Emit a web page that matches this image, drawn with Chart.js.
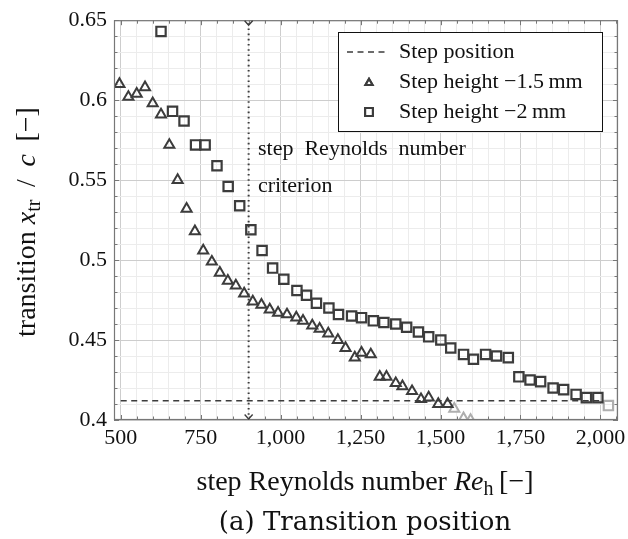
<!DOCTYPE html>
<html>
<head>
<meta charset="utf-8">
<script src="https://cdn.jsdelivr.net/npm/chart.js@4.4.1/dist/chart.umd.min.js"></script>
<style>
  html, body { margin: 0; padding: 0; background: #fff; }
  #wrap { width: 628px; height: 539px; }
</style>
</head>
<body>
<div id="wrap"><canvas id="c" width="628" height="539"></canvas></div>
<script>
// Transition position vs step Reynolds number, two step heights
const SERIF = "'Liberation Serif', 'Times New Roman', serif";
const CAPTION_FONT = "'DejaVu Serif', serif";
const INK = "#3c3c3c";
const FADED = "#aeaeae";

// step height -1.5 mm
const reTri = [496, 524, 550, 576, 600, 626, 652, 678, 706, 732, 758, 785, 810, 835, 860,
  886, 913, 940, 966, 992, 1020, 1049, 1070, 1099, 1122, 1149, 1179, 1203, 1232, 1253,
  1282, 1310, 1331, 1360, 1381, 1411, 1439, 1463, 1493, 1522];
const xtrTri = [0.610, 0.602, 0.604, 0.608, 0.598, 0.591, 0.572, 0.550, 0.532, 0.518, 0.506,
  0.499, 0.492, 0.487, 0.484, 0.479, 0.474, 0.472, 0.469, 0.467, 0.466, 0.464, 0.462, 0.459,
  0.457, 0.454, 0.450, 0.445, 0.439, 0.442, 0.441, 0.427, 0.427, 0.423, 0.421, 0.418, 0.413,
  0.414, 0.410, 0.410];
// points past the step position (greyed out)
const reTriOut = [1543, 1572, 1594];
const xtrTriOut = [0.407, 0.401, 0.400];

// step height -2 mm
const reSq = [626, 662, 698, 734, 764, 801, 836, 872, 907, 942, 975, 1010, 1051, 1081, 1112,
  1151, 1181, 1222, 1253, 1290, 1323, 1360, 1394, 1431, 1463, 1501, 1532, 1572, 1603, 1641,
  1675, 1712, 1745, 1780, 1813, 1852, 1885, 1924, 1956, 1992];
const xtrSq = [0.643, 0.593, 0.587, 0.572, 0.572, 0.559, 0.546, 0.534, 0.519, 0.506, 0.495,
  0.488, 0.481, 0.478, 0.473, 0.470, 0.466, 0.465, 0.464, 0.462, 0.461, 0.460, 0.458, 0.455,
  0.452, 0.450, 0.445, 0.441, 0.438, 0.441, 0.440, 0.439, 0.427, 0.425, 0.424, 0.420, 0.419,
  0.416, 0.414, 0.414];
const reSqOut = [2025];
const xtrSqOut = [0.409];

const stepPosition = 0.412;
const stepLineRe = [500, 2000];
const reCriterion = 900;

// axis range and tick grid (minor every 50 / 0.01, labels every 250 / 0.05)
const xMin = 479, xMax = 2055;
const yMin = 0.4, yMax = 0.65;
const xTicks = [];
for (let v = 500; v <= 2050; v += 50) xTicks.push(v);
const yTicksPct = [];
for (let k = 40; k <= 65; k++) yTicksPct.push(k);

const pts = (xs, ys) => xs.map((x, i) => ({ x, y: ys[i] }));

// pgfplots-style frame, inner ticks, criterion arrows, legend, labels
const decor = {
  id: "decor",
  beforeDatasetsDraw(chart) {
    const { ctx, chartArea: a, scales: { x, y } } = chart;
    ctx.save();
    ctx.strokeStyle = "#777";
    ctx.lineWidth = 1;
    ctx.beginPath();
    for (const v of xTicks) {
      const px = Math.round(x.getPixelForValue(v)) + 0.5;
      const len = v % 250 === 0 ? 5 : 3.5;
      ctx.moveTo(px, a.bottom); ctx.lineTo(px, a.bottom - len);
      ctx.moveTo(px, a.top); ctx.lineTo(px, a.top + len);
    }
    for (const k of yTicksPct) {
      const py = Math.round(y.getPixelForValue(k / 100)) + 0.5;
      const len = k % 5 === 0 ? 5 : 3.5;
      ctx.moveTo(a.left, py); ctx.lineTo(a.left + len, py);
      ctx.moveTo(a.right, py); ctx.lineTo(a.right - len, py);
    }
    ctx.stroke();
    ctx.restore();
  },
  afterDatasetsDraw(chart) {
    const { ctx, chartArea: a, scales: { x } } = chart;
    ctx.save();

    // frame
    ctx.strokeStyle = "#777";
    ctx.lineWidth = 1.2;
    ctx.strokeRect(a.left + 0.5, a.top + 0.5, a.right - a.left - 1, a.bottom - a.top - 1);

    // arrow heads on the criterion line
    const cx = x.getPixelForValue(reCriterion);
    ctx.strokeStyle = INK;
    ctx.lineWidth = 1.4;
    for (const tipY of [a.top + 5, a.bottom - 1]) {
      ctx.beginPath();
      ctx.moveTo(cx - 4, tipY - 4.5);
      ctx.lineTo(cx, tipY);
      ctx.lineTo(cx + 4, tipY - 4.5);
      ctx.stroke();
    }

    // criterion note
    ctx.fillStyle = "#111";
    ctx.font = `22px ${SERIF}`;
    ctx.textBaseline = "alphabetic";
    ctx.textAlign = "left";
    ctx.fillText("step  Reynolds  number", 258, 155);
    ctx.fillText("criterion", 258, 192);

    // legend
    const lx = 338.5, ly = 32.5, lw = 264, lh = 99;
    ctx.fillStyle = "#fff";
    ctx.fillRect(lx, ly, lw, lh);
    ctx.strokeStyle = "#111";
    ctx.lineWidth = 1;
    ctx.strokeRect(lx, ly, lw, lh);

    const symX = 369, textX = 399;
    const rows = [52, 82, 112];
    ctx.strokeStyle = INK;
    ctx.lineWidth = 1.6;
    ctx.setLineDash([6, 4.5]);
    ctx.beginPath();
    ctx.moveTo(347, rows[0]); ctx.lineTo(386, rows[0]);
    ctx.stroke();
    ctx.setLineDash([]);
    ctx.lineWidth = 2;
    Chart.helpers.drawPoint(ctx, { pointStyle: "triangle", radius: 4.2, borderWidth: 2 }, symX, rows[1] + 1);
    ctx.stroke();
    Chart.helpers.drawPoint(ctx, { pointStyle: "rect", radius: 5.5, borderWidth: 2 }, symX, rows[2]);
    ctx.stroke();

    ctx.fillStyle = "#111";
    ctx.font = `22px ${SERIF}`;
    ctx.textBaseline = "middle";
    ctx.fillText("Step position", textX, rows[0]);
    ctx.fillText("Step height \u22121.5\u2009mm", textX, rows[1]);
    ctx.fillText("Step height \u22122\u2009mm", textX, rows[2]);

    ctx.restore();
  },
  afterDraw(chart) {
    const { ctx } = chart;
    ctx.save();
    ctx.fillStyle = "#111";
    ctx.textBaseline = "alphabetic";

    // draws a run of [text, font, dy] pieces starting at x0
    const run = (pieces, x0, y0) => {
      let cx = x0;
      for (const [t, f, dy] of pieces) {
        ctx.font = f;
        ctx.fillText(t, cx, y0 + dy);
        cx += ctx.measureText(t).width;
      }
    };
    const width = (pieces) => pieces.reduce((w, [t, f]) => { ctx.font = f; return w + ctx.measureText(t).width; }, 0);

    // x axis title
    const xt = [
      ["step Reynolds number ", `28px ${SERIF}`, 0],
      ["Re", `italic 28px ${SERIF}`, 0],
      ["h", `20px ${SERIF}`, 5],
      ["\u2009[\u2212]", `28px ${SERIF}`, 0],
    ];
    run(xt, 365 - width(xt) / 2, 490);

    // y axis title
    const yt = [
      ["transition ", `28px ${SERIF}`, 0],
      ["x", `italic 28px ${SERIF}`, 0],
      ["tr", `20px ${SERIF}`, 5],
      ["\u2009 / \u2009", `28px ${SERIF}`, 0],
      ["c", `italic 28px ${SERIF}`, 0],
      ["\u2009 [\u2212]", `28px ${SERIF}`, 0],
    ];
    ctx.translate(35, 222);
    ctx.rotate(-Math.PI / 2);
    run(yt, -width(yt) / 2, 0);
    ctx.setTransform(1, 0, 0, 1, 0, 0);

    // caption
    ctx.font = `26px ${CAPTION_FONT}`;
    ctx.textAlign = "center";
    ctx.fillText("(a) Transition position", 365, 530);
    ctx.restore();
  },
};

new Chart(document.getElementById("c"), {
  type: "scatter",
  data: {
    datasets: [
      {
        type: "line",
        data: stepLineRe.map((re) => ({ x: re, y: stepPosition })),
        borderColor: INK, borderWidth: 1.6, borderDash: [6, 4.5],
        pointRadius: 0, fill: false,
      },
      {
        type: "line",
        data: [{ x: reCriterion, y: yMin }, { x: reCriterion, y: yMax }],
        borderColor: INK, borderWidth: 2, borderDash: [1.6, 3.6],
        pointRadius: 0, fill: false,
      },
      {
        data: pts(reTri, xtrTri),
        pointStyle: "triangle", pointRadius: 5.8, pointBorderWidth: 2,
        borderColor: INK, backgroundColor: "transparent",
      },
      {
        data: pts(reTriOut, xtrTriOut),
        pointStyle: "triangle", pointRadius: 5.8, pointBorderWidth: 2,
        borderColor: FADED, backgroundColor: "transparent",
      },
      {
        data: pts(reSq, xtrSq),
        pointStyle: "rect", pointRadius: 6.6, pointBorderWidth: 2.2,
        borderColor: INK, backgroundColor: "transparent",
      },
      {
        data: pts(reSqOut, xtrSqOut),
        pointStyle: "rect", pointRadius: 6.6, pointBorderWidth: 2.2,
        borderColor: FADED, backgroundColor: "transparent",
      },
    ],
  },
  options: {
    responsive: false,
    animation: false,
    layout: { padding: { top: 20, right: 10, left: 0, bottom: 0 } },
    plugins: { legend: { display: false }, tooltip: { enabled: false } },
    scales: {
      x: {
        type: "linear", min: xMin, max: xMax,
        afterBuildTicks: (s) => { s.ticks = xTicks.map((value) => ({ value })); },
        afterFit: (s) => { s.height = 119; },
        border: { display: false },
        grid: {
          drawTicks: false,
          color: (c) => (c.tick && c.tick.value % 250 === 0 ? "#cdcdcd" : "#ececec"),
        },
        ticks: {
          autoSkip: false, maxRotation: 0, padding: 5,
          color: "#111", font: { family: SERIF, size: 22 },
          callback: (v) => (v % 250 === 0 ? v.toLocaleString("en-US") : ""),
        },
      },
      y: {
        type: "linear", min: yMin, max: yMax,
        afterBuildTicks: (s) => { s.ticks = yTicksPct.map((k) => ({ value: k / 100 })); },
        afterFit: (s) => { s.width = 114; },
        border: { display: false },
        grid: {
          drawTicks: false,
          color: (c) => (c.tick && Math.round(c.tick.value * 100) % 5 === 0 ? "#cdcdcd" : "#ececec"),
        },
        ticks: {
          autoSkip: false, padding: 7,
          color: "#111", font: { family: SERIF, size: 22 },
          callback: (v) => {
            const k = Math.round(v * 100);
            return k % 5 === 0 ? String(k / 100) : "";
          },
        },
      },
    },
  },
  plugins: [decor],
});
</script>
</body>
</html>
